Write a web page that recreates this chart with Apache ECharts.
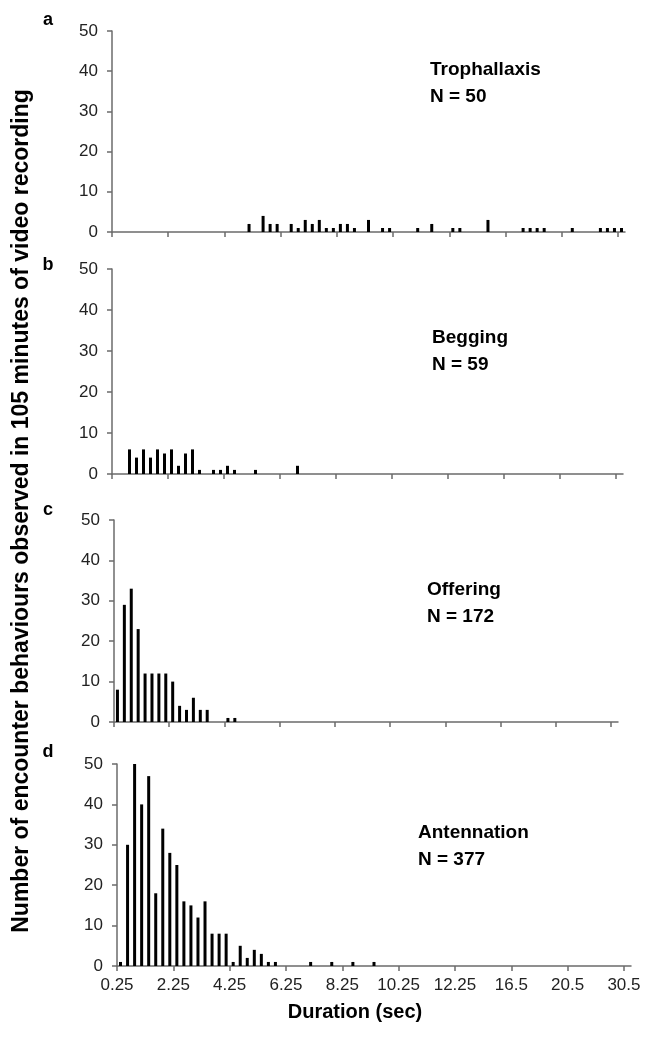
<!DOCTYPE html>
<html>
<head>
<meta charset="utf-8">
<script src="https://cdn.jsdelivr.net/npm/echarts@6/dist/echarts.min.js"></script>
<style>
  html, body { margin: 0; padding: 0; background: #fff; }
  #chart { width: 646px; height: 1037px; }
</style>
</head>
<body>
<div id="chart"></div>
<script>
// duration bins: 73 bins, a tick label every 8 bins
const binCount = 73;
const tickLabels = ['0.25', '2.25', '4.25', '6.25', '8.25', '10.25', '12.25', '16.5', '20.5', '30.5'];

// bin index -> number of encounters
const trophBins = [19, 21, 22, 23, 25, 26, 27, 28, 29, 30, 31, 32, 33, 34, 36, 38, 39, 43, 45, 48, 49, 53, 58, 59, 60, 61, 65, 69, 70, 71, 72];
const trophCounts = [2, 4, 2, 2, 2, 1, 3, 2, 3, 1, 1, 2, 2, 1, 3, 1, 1, 1, 2, 1, 1, 3, 1, 1, 1, 1, 1, 1, 1, 1, 1];

const beggingBins = [2, 3, 4, 5, 6, 7, 8, 9, 10, 11, 12, 14, 15, 16, 17, 20, 26];
const beggingCounts = [6, 4, 6, 4, 6, 5, 6, 2, 5, 6, 1, 1, 1, 2, 1, 1, 2];

const offeringBins = [0, 1, 2, 3, 4, 5, 6, 7, 8, 9, 10, 11, 12, 13, 16, 17];
const offeringCounts = [8, 29, 33, 23, 12, 12, 12, 12, 10, 4, 3, 6, 3, 3, 1, 1];

const antennBins = [0, 1, 2, 3, 4, 5, 6, 7, 8, 9, 10, 11, 12, 13, 14, 15, 16, 17, 18, 19, 20, 21, 22, 27, 30, 33, 36];
const antennCounts = [1, 30, 50, 40, 47, 18, 34, 28, 25, 16, 15, 12, 16, 8, 8, 8, 1, 5, 2, 4, 3, 1, 1, 1, 1, 1, 1];

const panelNames = ['Trophallaxis', 'Begging', 'Offering', 'Antennation'];
const panelN = [50, 59, 172, 377];
const panelLetters = ['a', 'b', 'c', 'd'];

const FONT = '"Liberation Sans", Arial, sans-serif';
const AXIS_COLOR = '#6b6b6b';

const panels = [
  { bins: trophBins, counts: trophCounts, grid: { left: 112, right: 21, top: 31, height: 201 }, text: [430, 70] },
  { bins: beggingBins, counts: beggingCounts, grid: { left: 112, right: 23, top: 269, height: 205 }, text: [432, 338] },
  { bins: offeringBins, counts: offeringCounts, grid: { left: 114, right: 28, top: 520, height: 202 }, text: [427, 590] },
  { bins: antennBins, counts: antennCounts, grid: { left: 117, right: 15, top: 764, height: 202 }, text: [418, 833] }
];
const letterY = [20, 265, 510, 752];

const tickValues = tickLabels.map((_, i) => i * 8);

const chart = echarts.init(document.getElementById('chart'), null, { renderer: 'canvas' });

const option = {
  animation: false,
  backgroundColor: '#fff',
  grid: panels.map(p => p.grid),
  xAxis: panels.map((p, i) => ({
    type: 'value',
    gridIndex: i,
    min: 0,
    max: binCount,
    interval: 8,
    splitLine: { show: false },
    axisLine: { show: true, lineStyle: { color: AXIS_COLOR, width: 1.5 } },
    axisTick: { show: true, length: 5, customValues: tickValues, lineStyle: { color: AXIS_COLOR, width: 1.5 } },
    axisLabel: {
      show: i === 3,
      customValues: tickValues,
      formatter: v => tickLabels[Math.round(v / 8)] || '',
      color: '#222',
      fontSize: 17,
      fontFamily: FONT,
      margin: 11
    }
  })),
  yAxis: panels.map((p, i) => ({
    type: 'value',
    gridIndex: i,
    min: 0,
    max: 50,
    interval: 10,
    splitLine: { show: false },
    axisLine: { show: true, lineStyle: { color: AXIS_COLOR, width: 1.5 } },
    axisTick: { show: true, length: 5, lineStyle: { color: AXIS_COLOR, width: 1.5 } },
    axisLabel: { color: '#222', fontSize: 17, fontFamily: FONT, margin: 14 }
  })),
  series: panels.map((p, i) => ({
    type: 'bar',
    xAxisIndex: i,
    yAxisIndex: i,
    barWidth: 3,
    itemStyle: { color: '#000' },
    data: p.bins.map((b, k) => [b + 0.5, p.counts[k]])
  })),
  graphic: [
    ...panels.flatMap((p, i) => [
      {
        type: 'text', x: p.text[0], y: p.text[1],
        style: { text: panelNames[i], font: 'bold 19px ' + FONT, fill: '#000', textVerticalAlign: 'middle' }
      },
      {
        type: 'text', x: p.text[0], y: p.text[1] + 27,
        style: { text: 'N = ' + panelN[i], font: 'bold 19px ' + FONT, fill: '#000', textVerticalAlign: 'middle' }
      },
      {
        type: 'text', x: 48, y: letterY[i],
        style: { text: panelLetters[i], font: 'bold 18px ' + FONT, fill: '#000', textAlign: 'center', textVerticalAlign: 'middle' }
      }
    ]),
    {
      type: 'text', x: 355, y: 1012,
      style: { text: 'Duration (sec)', font: 'bold 20px ' + FONT, fill: '#000', textAlign: 'center', textVerticalAlign: 'middle' }
    },
    {
      type: 'text', x: 22, y: 511, rotation: Math.PI / 2,
      style: {
        text: 'Number of encounter behaviours observed in 105 minutes of video recording',
        font: 'bold 23px ' + FONT, fill: '#000', textAlign: 'center', textVerticalAlign: 'middle'
      }
    }
  ]
};

chart.setOption(option);
</script>
</body>
</html>
